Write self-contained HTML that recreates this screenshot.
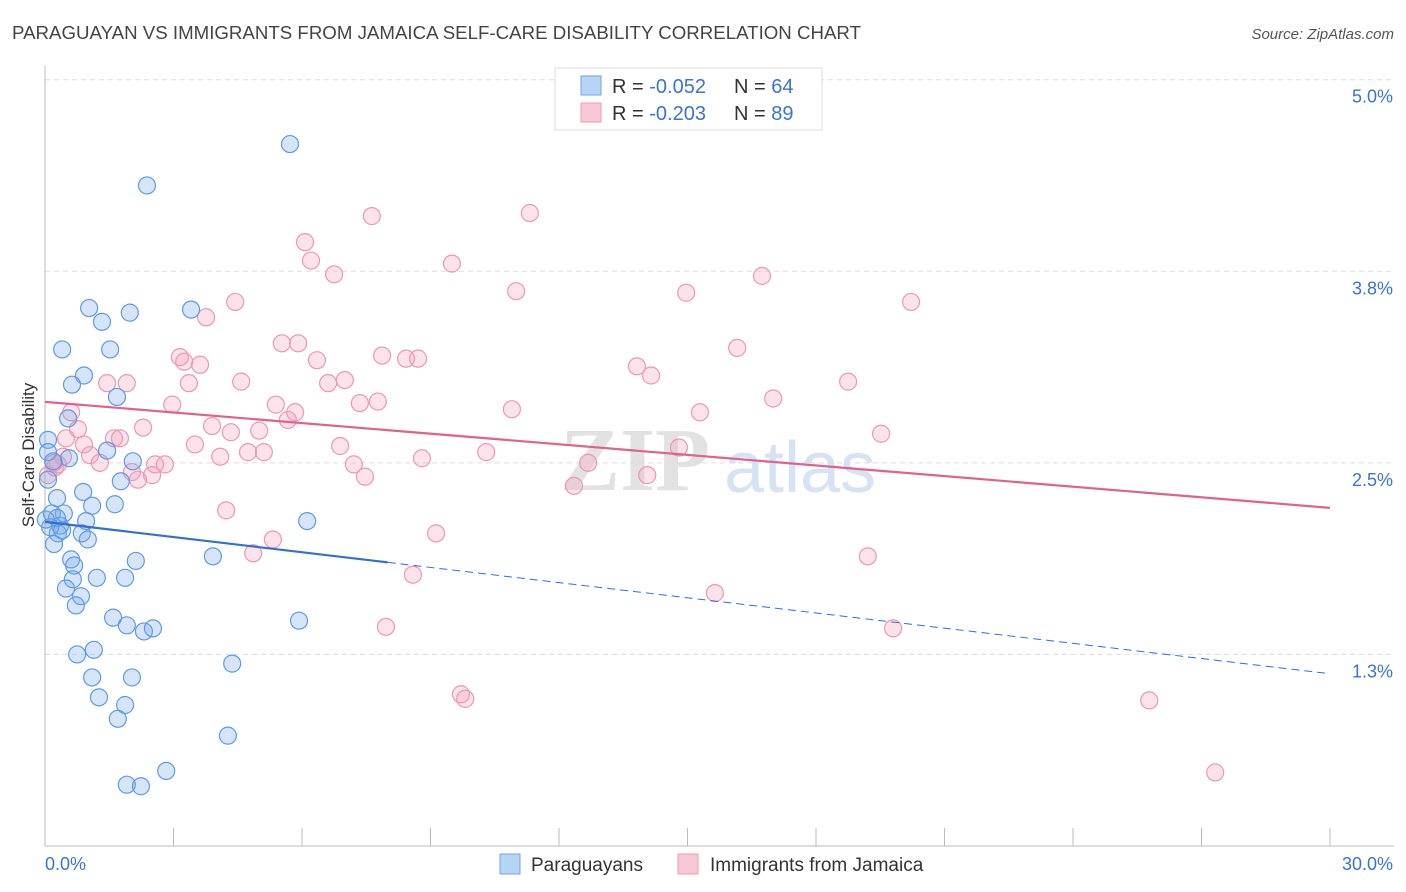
<!DOCTYPE html>
<html><head><meta charset="utf-8"><style>
body{margin:0;background:#fff;font-family:"Liberation Sans",sans-serif;}
svg{display:block}
</style></head><body>
<svg width="1406" height="892" xmlns="http://www.w3.org/2000/svg">
<text x="12" y="39" font-size="18" fill="#444" textLength="849" lengthAdjust="spacingAndGlyphs">PARAGUAYAN VS IMMIGRANTS FROM JAMAICA SELF-CARE DISABILITY CORRELATION CHART</text>
<text x="1394" y="39" font-size="15" fill="#555" font-style="italic" text-anchor="end">Source: ZipAtlas.com</text>
<text x="0" y="0" font-size="17" fill="#333" text-anchor="middle" transform="translate(34,455) rotate(-90)">Self-Care Disability</text>
<g><text x="635" y="490" font-size="90" fill="#e2e2e2" text-anchor="middle" font-family="Liberation Serif,serif" font-weight="bold">ZIP</text><text x="800" y="492" font-size="72" fill="#d6e3f3" text-anchor="middle">atlas</text></g>
<g id="grid"></g><g id="axes"></g><g id="marks"></g>
<g>
<rect x="555" y="68" width="267" height="62" fill="#fff" stroke="#ddd"/>
<rect x="581" y="76" width="20" height="19" fill="#b8d4f5" stroke="#6fa3e6"/>
<rect x="581" y="103" width="20" height="19" fill="#f9c8d7" stroke="#ec9ab5"/>
<text x="612" y="93" font-size="20" fill="#333">R = <tspan fill="#3a74d0">-0.052</tspan><tspan x="734">N = </tspan><tspan fill="#3a74d0">64</tspan></text>
<text x="612" y="120" font-size="20" fill="#333">R = <tspan fill="#3a74d0">-0.203</tspan><tspan x="734">N = </tspan><tspan fill="#3a74d0">89</tspan></text>
</g>
<g>
<rect x="500" y="854" width="20" height="20" fill="#b8d4f5" stroke="#6fa3e6"/>
<text x="531" y="871" font-size="19" fill="#333">Paraguayans</text>
<rect x="678" y="854" width="20" height="20" fill="#f9c8d7" stroke="#ec9ab5"/>
<text x="710" y="871" font-size="19" fill="#333">Immigrants from Jamaica</text>
</g>
</svg>
<script>
const yTicks=[1.25,2.5,3.75,5.0];
const yTickLabels=["1.3%","2.5%","3.8%","5.0%"];
const xTickLabels=["0.0%","30.0%"];
const blueX=[5.72,2.38,1.03,1.98,3.41,1.33,0.40,1.52,0.91,0.63,1.68,0.54,0.07,0.56,1.45,2.05,1.77,0.07,0.89,1.63,1.10,0.16,0.44,0.35,0.96,6.12,0.30,0.86,1.00,0.21,0.61,0.68,2.12,3.92,1.21,1.87,0.65,0.49,0.84,0.72,1.59,1.91,2.31,2.52,5.93,0.75,1.14,4.37,2.03,1.10,1.26,1.87,1.70,4.27,2.83,1.91,2.24,0.07,0.28,0.12,0.40,0.02,0.19,0.28];
const blueY=[4.58,4.31,3.51,3.48,3.50,3.42,3.24,3.24,3.07,3.01,2.93,2.79,2.65,2.53,2.58,2.51,2.38,2.39,2.31,2.23,2.22,2.17,2.17,2.09,2.12,2.12,2.04,2.04,2.00,1.97,1.87,1.83,1.86,1.89,1.75,1.75,1.74,1.68,1.63,1.57,1.49,1.44,1.40,1.42,1.47,1.25,1.28,1.19,1.10,1.10,0.97,0.92,0.83,0.72,0.49,0.40,0.39,2.57,2.14,2.08,2.06,2.13,2.51,2.27];
const pinkX=[7.63,11.32,6.07,6.21,9.50,6.75,16.74,11.00,14.97,20.22,4.44,3.76,5.53,5.91,16.16,3.15,3.25,6.35,3.62,7.87,8.43,8.71,13.82,14.15,1.45,1.91,3.36,4.58,6.61,7.00,18.75,2.97,5.39,7.35,7.77,10.90,15.29,17.00,0.61,5.84,5.67,2.29,3.90,4.34,5.00,0.77,0.49,1.61,1.75,19.52,3.50,6.89,0.91,5.11,4.74,4.09,1.05,1.28,2.57,2.80,10.30,8.80,14.80,7.21,12.68,0.42,0.23,0.30,2.03,2.50,2.17,7.47,14.06,12.35,0.07,4.23,9.13,5.32,4.86,19.21,8.59,15.64,7.96,19.80,9.71,9.81,25.78,27.32,0.21];
const pinkY=[4.11,4.13,3.94,3.82,3.80,3.73,3.72,3.62,3.61,3.55,3.55,3.45,3.28,3.28,3.25,3.19,3.16,3.17,3.14,3.20,3.18,3.18,3.13,3.07,3.02,3.02,3.02,3.03,3.02,3.04,3.03,2.88,2.88,2.89,2.90,2.85,2.83,2.92,2.83,2.83,2.78,2.73,2.74,2.70,2.71,2.72,2.66,2.66,2.66,2.69,2.62,2.61,2.62,2.57,2.57,2.54,2.55,2.50,2.49,2.49,2.57,2.53,2.60,2.49,2.50,2.54,2.47,2.49,2.44,2.42,2.39,2.41,2.42,2.35,2.42,2.19,2.04,2.00,1.91,1.89,1.77,1.65,1.43,1.42,0.99,0.96,0.95,0.48,2.50];
const blueTrend=[2.115,1.124]; const blueSolidEnd=8.0;
const pinkTrend=[2.898,2.206];
const NS="http://www.w3.org/2000/svg";
const X0=45,X1=1330,Y0=846,Y5=79.7;
function sx(v){return X0+(X1-X0)*v/30;}
function sy(v){return Y0-(Y0-Y5)*v/5;}
function mk(t,a,p){const e=document.createElementNS(NS,t);for(const k in a)e.setAttribute(k,a[k]);document.getElementById(p).appendChild(e);return e;}
for(let i=0;i<yTicks.length;i++){
 const g=mk('line',{x1:X0,x2:1394,y1:sy(yTicks[i]),y2:sy(yTicks[i]),stroke:'#ddd','stroke-dasharray':'5,4'},'grid');
 
 
 const t=mk('text',{x:1393,y:sy(yTicks[i])+23,'font-size':18,fill:'#3a74d0','text-anchor':'end'},'grid');
 t.textContent=yTickLabels[i];
 
 
}
const la=mk('line',{x1:X0,x2:X0,y1:66,y2:Y0,stroke:'#bbb'},'axes');


const ba=mk('line',{x1:X0,x2:1394,y1:Y0,y2:Y0,stroke:'#bbb'},'axes');


for(let k=0;k<=10;k++){
 const tk=mk('line',{x1:sx(k*3),x2:sx(k*3),y1:828,y2:Y0,stroke:'#bbb'},'axes');
 
 
}
const xl0=mk('text',{x:X0,y:870,'font-size':18,fill:'#3a74d0'},'axes');xl0.textContent=xTickLabels[0];


const xl1=mk('text',{x:1393,y:870,'font-size':18,fill:'#3a74d0','text-anchor':'end'},'axes');xl1.textContent=xTickLabels[1];


for(let i=0;i<pinkX.length;i++){
 const c=mk('circle',{cx:sx(pinkX[i]),cy:sy(pinkY[i]),r:8.5,fill:'rgba(244,160,190,0.3)',stroke:'#eb98b4','stroke-width':1.2},'marks');
 
 
}
for(let i=0;i<blueX.length;i++){
 const c=mk('circle',{cx:sx(blueX[i]),cy:sy(blueY[i]),r:8.5,fill:'rgba(120,170,235,0.3)',stroke:'#5e9be3','stroke-width':1.2},'marks');
 
 
}
function ty(tr,x){return tr[0]+(tr[1]-tr[0])*x/30;}
const pl=mk('line',{x1:sx(0),y1:sy(pinkTrend[0]),x2:sx(30),y2:sy(pinkTrend[1]),stroke:'#e0608f','stroke-width':2.2},'marks');


const bl=mk('line',{x1:sx(0),y1:sy(blueTrend[0]),x2:sx(blueSolidEnd),y2:sy(ty(blueTrend,blueSolidEnd)),stroke:'#2f6fd6','stroke-width':2.2},'marks');


const bd=mk('line',{x1:sx(blueSolidEnd),y1:sy(ty(blueTrend,blueSolidEnd)),x2:sx(30),y2:sy(blueTrend[1]),stroke:'#2f6fd6','stroke-width':1,'stroke-dasharray':'8,5'},'marks');


</script>
</body></html>
